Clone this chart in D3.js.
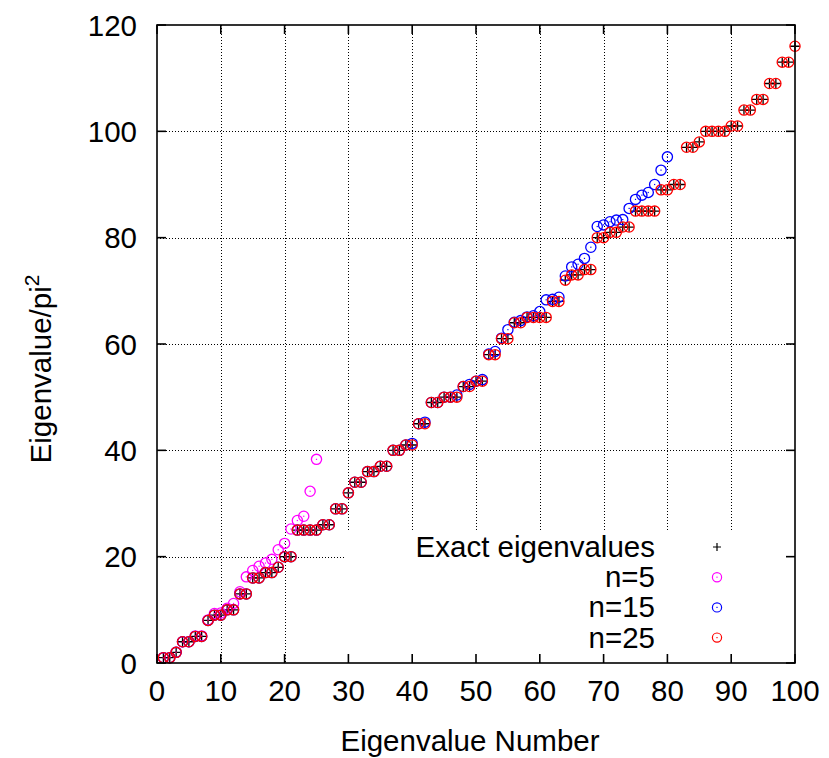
<!DOCTYPE html>
<html>
<head>
<meta charset="utf-8">
<script src="https://cdn.jsdelivr.net/npm/d3@7"></script>
<style>
  body { margin: 0; background: #fff; }
  svg { display: block; font-family: "Liberation Sans", Arial, sans-serif; }
</style>
</head>
<body>
<div id="chart"></div>
<script>
// exact eigenvalues / pi^2, index 1..100
const exact = [1, 1, 2, 4, 4, 5, 5, 8, 9, 9,
  10, 10, 13, 13, 16, 16, 17, 17, 18, 20,
  20, 25, 25, 25, 25, 26, 26, 29, 29, 32,
  34, 34, 36, 36, 37, 37, 40, 40, 41, 41,
  45, 45, 49, 49, 50, 50, 50, 52, 52, 53,
  53, 58, 58, 61, 61, 64, 64, 65, 65, 65,
  65, 68, 68, 72, 73, 73, 74, 74, 80, 80,
  81, 81, 82, 82, 85, 85, 85, 85, 89, 89,
  90, 90, 97, 97, 98, 100, 100, 100, 100, 101,
  101, 104, 104, 106, 106, 109, 109, 113, 113, 116];

// n=5 approximation (25 values)
const approx5 = [1, 1, 2, 4, 4, 5.1, 5.1, 8.1, 9.3, 9.4,
  10.3, 11.2, 13.4, 16.2, 17.4, 18.2, 18.8, 19.5, 21.3, 22.5,
  25.2, 26.8, 27.6, 32.3, 38.3];

// n=15 approximation (first 80 values)
const approx15 = [1, 1, 2, 4, 4, 5, 5, 8, 9, 9,
  10, 10, 13, 13, 16, 16, 17, 17, 18, 20,
  20, 25, 25, 25, 25, 26, 26, 29, 29, 32,
  34, 34, 36, 36, 37, 37, 40, 40, 41, 41.3,
  45, 45.3, 49, 49, 50, 50, 50.4, 52, 52.4, 53,
  53.3, 58.1, 58.6, 61.1, 62.7, 64.1, 64.4, 65.1, 65.3, 66.1,
  68.3, 68.4, 68.8, 72.8, 74.5, 75.0, 76.1, 78.2, 82.1, 82.4,
  83.0, 83.3, 83.4, 85.5, 87.2, 88.0, 88.5, 90.0, 92.7, 95.2];

// n=25 approximation (100 values)
const approx25 = [1, 1, 2, 4, 4, 5, 5, 8, 9, 9,
  10, 10, 13, 13, 16, 16, 17, 17, 18, 20,
  20, 25, 25, 25, 25, 26, 26, 29, 29, 32,
  34, 34, 36, 36, 37, 37, 40, 40, 41, 41,
  45, 45, 49, 49, 50, 50, 50, 52, 52, 53,
  53, 58, 58, 61, 61, 64, 64, 65, 65, 65,
  65, 68, 68, 72, 73, 73, 74, 74, 80, 80,
  81, 81, 82, 82, 85, 85, 85, 85, 89, 89,
  90, 90, 97, 97, 98, 100, 100, 100, 100, 101,
  101, 104, 104, 106, 106, 109, 109, 113, 113, 116];

const xTicks = [0, 10, 20, 30, 40, 50, 60, 70, 80, 90, 100];
const yTicks = [0, 20, 40, 60, 80, 100, 120];
const legendLabels = ["Exact eigenvalues", "n=5", "n=15", "n=25"];

const W = 829, H = 758;
const plotL = 157, plotR = 795, plotT = 25, plotB = 663;
const fs = 29.5;

const svg = d3.select("#chart").append("svg")
  .attr("width", W).attr("height", H);

const x = d3.scaleLinear().domain([0, 100]).range([plotL, plotR]);
const y = d3.scaleLinear().domain([0, 120]).range([plotB, plotT]);

// grid
const grid = svg.append("g")
  .attr("stroke", "#000").attr("stroke-width", 1)
  .attr("stroke-dasharray", "1,2").attr("shape-rendering", "crispEdges");
grid.selectAll(".gx").data(xTicks.slice(1, -1)).join("line")
  .attr("x1", d => Math.round(x(d)) + 0.5).attr("x2", d => Math.round(x(d)) + 0.5)
  .attr("y1", plotT).attr("y2", plotB);
grid.selectAll(".gy").data(yTicks.slice(1, -1)).join("line")
  .attr("y1", d => Math.round(y(d)) + 0.5).attr("y2", d => Math.round(y(d)) + 0.5)
  .attr("x1", plotL).attr("x2", plotR);

const idx = arr => arr.map((v, i) => ({ i: i + 1, v }));

// exact: plus marks
const plus = r => `M${-r},0H${r}M0,${-r}V${r}`;
svg.append("g").selectAll("path").data(idx(exact)).join("path")
  .attr("transform", d => `translate(${x(d.i)},${y(d.v)})`)
  .attr("d", plus(4.8))
  .attr("fill", "none").attr("stroke", "#000").attr("stroke-width", 1.3);

const circles = (data, color) => {
  const g = svg.append("g").selectAll("g").data(idx(data)).join("g")
    .attr("transform", d => `translate(${x(d.i)},${y(d.v)})`);
  g.append("circle").attr("r", 5.1)
    .attr("fill", "none").attr("stroke", color).attr("stroke-width", 1.3);
  g.append("rect").attr("x", -0.6).attr("y", -0.6).attr("width", 1.2).attr("height", 1.2)
    .attr("fill", color);
};
circles(approx5, "#ff00ff");
circles(approx15, "#0000ff");
circles(approx25, "#ff0000");

// opaque key box
svg.append("rect").attr("x", 344).attr("y", 530)
  .attr("width", plotR - 344).attr("height", plotB - 530).attr("fill", "#fff");

const keyColors = ["#000", "#ff00ff", "#0000ff", "#ff0000"];
const key = svg.append("g").selectAll("g").data(legendLabels).join("g")
  .attr("transform", (d, i) => `translate(0,${547 + i * 30.2})`);
key.append("text").attr("x", 655).attr("y", 10)
  .attr("text-anchor", "end").attr("font-size", fs).text(d => d);
key.each(function (d, i) {
  const g = d3.select(this).append("g").attr("transform", "translate(717,0)");
  if (i === 0) {
    g.append("path").attr("d", plus(4)).attr("stroke", "#000").attr("stroke-width", 1.2);
  } else {
    g.append("circle").attr("r", 4.6).attr("fill", "none")
      .attr("stroke", keyColors[i]).attr("stroke-width", 1.2);
    g.append("rect").attr("x", -0.6).attr("y", -0.6).attr("width", 1.2).attr("height", 1.2)
      .attr("fill", keyColors[i]);
  }
});

// border and ticks
const axes = svg.append("g").attr("stroke", "#000").attr("stroke-width", 1.6);
axes.append("rect").attr("x", plotL).attr("y", plotT)
  .attr("width", plotR - plotL).attr("height", plotB - plotT).attr("fill", "none");
const tl = 9;
xTicks.forEach(t => {
  axes.append("line").attr("x1", x(t)).attr("x2", x(t)).attr("y1", plotB).attr("y2", plotB - tl);
  axes.append("line").attr("x1", x(t)).attr("x2", x(t)).attr("y1", plotT).attr("y2", plotT + tl);
});
yTicks.forEach(t => {
  axes.append("line").attr("y1", y(t)).attr("y2", y(t)).attr("x1", plotL).attr("x2", plotL + tl);
  axes.append("line").attr("y1", y(t)).attr("y2", y(t)).attr("x1", plotR).attr("x2", plotR - tl);
});

// tick labels
svg.append("g").selectAll("text").data(xTicks).join("text")
  .attr("x", d => x(d)).attr("y", 701)
  .attr("text-anchor", "middle").attr("font-size", fs).text(d => d);
svg.append("g").selectAll("text").data(yTicks).join("text")
  .attr("x", 137).attr("y", d => y(d) + 10.5)
  .attr("text-anchor", "end").attr("font-size", fs).text(d => d);

// axis titles
svg.append("text").attr("x", 470).attr("y", 751)
  .attr("text-anchor", "middle").attr("font-size", fs).text("Eigenvalue Number");
const yl = svg.append("text").attr("transform", "translate(51,369) rotate(-90)")
  .attr("text-anchor", "middle").attr("font-size", fs);
yl.append("tspan").text("Eigenvalue/pi");
yl.append("tspan").attr("dy", -12).attr("font-size", 21).text("2");
</script>
</body>
</html>
